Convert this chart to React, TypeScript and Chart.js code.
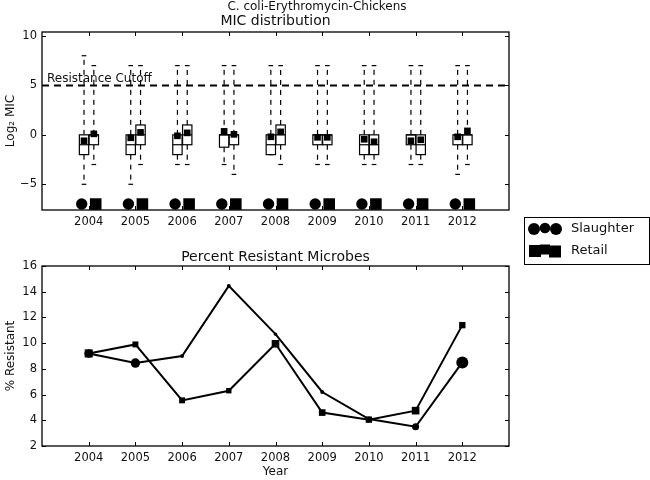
import { useEffect, useRef } from 'react';
import { Chart, registerables } from 'chart.js';
Chart.register(...registerables);

// ---------- data ----------
const years = [2004, 2005, 2006, 2007, 2008, 2009, 2010, 2011, 2012];

// MIC distribution (log2 MIC) - Slaughter
const slMin = [-5, -5, -3, -3, -2, -3, -3, -3, -4];
const slQ1 = [-2, -2, -2, -1.25, -2, -1, -2, -1, -1];
const slMed = [-1, -1, -1, 0, -1, 0, -1, 0, 0];
const slQ3 = [0, 0, 0, 0, 0, 0, 0, 0, 0];
const slMax = [8, 7, 7, 7, 7, 7, 7, 7, 7];
const slMean = [-0.6, -0.3, -0.1, 0.35, -0.2, -0.25, -0.45, -0.6, -0.2];

// MIC distribution (log2 MIC) - Retail
const rtMin = [-3, -3, -3, -4, -3, -3, -3, -3, -3];
const rtQ1 = [-1, -1, -1, -1, -1, -1, -2, -2, -1];
const rtMed = [0, 0, 0, 0, 0, 0, -1, -1, 0];
const rtQ3 = [0, 1, 1, 0, 1, 0, 0, 0, 0];
const rtMax = [7, 7, 7, 7, 7, 7, 7, 7, 7];
const rtMean = [0.1, 0.25, 0.2, 0.05, 0.3, -0.25, -0.7, -0.5, 0.4];

const cutoff = 5;
const micTicks = [-5, 0, 5, 10];

// Percent resistant
const slPct = [9.2, 8.45, 9.0, 14.45, 10.7, 6.2, 4.1, 3.5, 8.5];
const rtPct = [9.2, 9.9, 5.55, 6.3, 9.95, 4.6, 4.05, 4.75, 11.4];
const pctTicks = [2, 4, 6, 8, 10, 12, 14, 16];

// marker radii (style)
const slRadius = [4.3, 4.7, 2, 2, 1.7, 2, 2.5, 3.5, 6];
const rtRadius = [5.7, 4.2, 4.2, 3.8, 5.4, 4.7, 4.5, 5.4, 4.5];

// ---------- style ----------
const FONT = "'DejaVu Sans', 'Liberation Sans', sans-serif";
const TXT = '#111';
const SL_OFF = -0.1;
const RT_OFF = 0.11;
const BOX_HALF = 0.1;

const fmt = (v: number) => (v < 0 ? '\u2212' + Math.abs(v) : String(v));

function seg(ctx: CanvasRenderingContext2D, x1: number, y1: number, x2: number, y2: number) {
  ctx.beginPath();
  ctx.moveTo(x1, y1);
  ctx.lineTo(x2, y2);
  ctx.stroke();
}

const frameTicks = {
  id: 'frameTicks',
  afterDatasetsDraw(chart: any) {
    const { ctx, chartArea, scales } = chart;
    const { left, right, top, bottom } = chartArea;
    const x = scales.x, y = scales.y;
    ctx.save();
    ctx.strokeStyle = '#000';
    ctx.lineWidth = 1;
    x.ticks.forEach((t: any) => {
      const px = Math.round(x.getPixelForValue(t.value)) + 0.5;
      seg(ctx, px, bottom, px, bottom - 4);
      seg(ctx, px, top, px, top + 4);
    });
    y.ticks.forEach((t: any) => {
      const py = Math.round(y.getPixelForValue(t.value)) + 0.5;
      seg(ctx, left, py, left + 4, py);
      seg(ctx, right, py, right - 4, py);
    });
    ctx.lineWidth = 1.3;
    ctx.strokeRect(left, top, right - left, bottom - top);
    ctx.restore();
  },
};

const boxPlugin = {
  id: 'boxes',
  beforeDatasetsDraw(chart: any) {
    const { ctx, chartArea, scales } = chart;
    const x = scales.x, y = scales.y;
    ctx.save();
    ctx.beginPath();
    ctx.rect(chartArea.left, chartArea.top, chartArea.right - chartArea.left, chartArea.bottom - chartArea.top);
    ctx.clip();
    const groups = [
      { off: SL_OFF, min: slMin, q1: slQ1, med: slMed, q3: slQ3, max: slMax },
      { off: RT_OFF, min: rtMin, q1: rtQ1, med: rtMed, q3: rtQ3, max: rtMax },
    ];
    groups.forEach((g) => {
      years.forEach((yr, i) => {
        const cx = x.getPixelForValue(yr + g.off);
        const hw = x.getPixelForValue(yr + g.off + BOX_HALF) - cx;
        const cw = hw / 2;
        const py = (v: number) => y.getPixelForValue(v);
        ctx.strokeStyle = '#000';
        ctx.lineWidth = 1.2;
        ctx.setLineDash([5, 5]);
        seg(ctx, cx, py(g.q3[i]), cx, py(g.max[i]));
        seg(ctx, cx, py(g.q1[i]), cx, py(g.min[i]));
        ctx.setLineDash([]);
        seg(ctx, cx - cw, py(g.max[i]), cx + cw, py(g.max[i]));
        seg(ctx, cx - cw, py(g.min[i]), cx + cw, py(g.min[i]));
        const top = py(g.q3[i]);
        const bot = py(g.q1[i]);
        ctx.fillStyle = '#fff';
        ctx.fillRect(cx - hw, top, 2 * hw, bot - top);
        ctx.strokeRect(cx - hw, top, 2 * hw, bot - top);
        seg(ctx, cx - hw, py(g.med[i]), cx + hw, py(g.med[i]));
      });
    });
    ctx.restore();
  },
};

const topText = {
  id: 'topText',
  afterDraw(chart: any) {
    const { ctx, chartArea } = chart;
    const cx = (chartArea.left + chartArea.right) / 2;
    ctx.save();
    ctx.fillStyle = TXT;
    ctx.textAlign = 'center';
    ctx.textBaseline = 'middle';
    ctx.font = `12px ${FONT}`;
    ctx.fillText('C. coli-Erythromycin-Chickens', 317, 7);
    ctx.font = `14px ${FONT}`;
    ctx.fillText('MIC distribution', cx, 21);
    // cutoff label
    const yC = chart.scales.y.getPixelForValue(cutoff);
    ctx.font = `12px ${FONT}`;
    ctx.textAlign = 'left';
    ctx.textBaseline = 'alphabetic';
    ctx.fillText('Resistance Cutoff', chartArea.left + 5, yC - 3);

    // legend
    const lx = 524, ly = 217, lw = 125, lh = 47;
    ctx.fillStyle = '#fff';
    ctx.fillRect(lx, ly, lw, lh);
    ctx.strokeStyle = '#000';
    ctx.lineWidth = 1;
    ctx.strokeRect(lx + 0.5, ly + 0.5, lw, lh);
    ctx.fillStyle = '#000';
    const r1 = 229, r2 = 251;
    [[534, 0, 6], [545, -1, 5.3], [556, 0, 6]].forEach(([px, dy, r]) => {
      ctx.beginPath();
      ctx.arc(px, r1 + dy, r, 0, Math.PI * 2);
      ctx.fill();
    });
    [[535, 0, 12], [545, -1.5, 10], [555, 0.5, 12]].forEach(([px, dy, s]) => {
      ctx.fillRect(px - s / 2, r2 + dy - s / 2, s, s);
    });
    ctx.fillStyle = TXT;
    ctx.font = `13px ${FONT}`;
    ctx.textBaseline = 'middle';
    ctx.fillText('Slaughter', 571, r1);
    ctx.fillText('Retail', 571, r2);
    ctx.restore();
  },
};

const botText = {
  id: 'botText',
  afterDraw(chart: any) {
    const { ctx, chartArea } = chart;
    ctx.save();
    ctx.fillStyle = TXT;
    ctx.textAlign = 'center';
    ctx.textBaseline = 'middle';
    ctx.font = `14px ${FONT}`;
    ctx.fillText('Percent Resistant Microbes', (chartArea.left + chartArea.right) / 2, chartArea.top - 9);
    ctx.restore();
  },
};

const tickFont = { family: FONT, size: 11.5 };
const titleFont = { family: FONT, size: 12 };

function xScale(height: number) {
  return {
    type: 'linear',
    min: 2003,
    max: 2013,
    afterBuildTicks: (s: any) => {
      s.ticks = years.map((v) => ({ value: v }));
    },
    afterFit: (s: any) => {
      s.height = height;
    },
    grid: { display: false, drawTicks: false },
    border: { display: false },
    ticks: { padding: 5, font: tickFont, color: TXT, maxRotation: 0, autoSkip: false, callback: (v: any) => String(v) },
  };
}

function yScale(min: number, max: number, ticks: number[], title: string) {
  return {
    type: 'linear',
    min,
    max,
    afterBuildTicks: (s: any) => {
      s.ticks = ticks.map((v) => ({ value: v }));
    },
    afterFit: (s: any) => {
      s.width = 42;
    },
    grid: { display: false, drawTicks: false },
    border: { display: false },
    ticks: { padding: 5, font: tickFont, color: TXT, callback: (v: any) => fmt(v) },
    title: { display: true, text: title, font: titleFont, color: TXT, padding: { top: 4, bottom: 0 } },
  };
}

export default function App() {
  const topRef = useRef<HTMLCanvasElement>(null);
  const botRef = useRef<HTMLCanvasElement>(null);

  useEffect(() => {
    const top = new Chart(topRef.current as HTMLCanvasElement, {
      type: 'scatter',
      data: {
        datasets: [
          {
            data: [{ x: 2003, y: cutoff }, { x: 2013, y: cutoff }],
            showLine: true,
            borderColor: '#000',
            borderWidth: 2,
            borderDash: [7, 5],
            pointRadius: 0,
          },
          {
            data: years.map((yr, i) => ({ x: yr + SL_OFF, y: slMean[i] })),
            pointStyle: 'rect',
            pointRadius: 4.7,
            backgroundColor: '#000',
            borderColor: '#000',
            borderWidth: 0,
          },
          {
            data: years.map((yr, i) => ({ x: yr + RT_OFF, y: rtMean[i] })),
            pointStyle: 'rect',
            pointRadius: 4.7,
            backgroundColor: '#000',
            borderColor: '#000',
            borderWidth: 0,
          },
          {
            data: years.map((yr) => ({ x: yr - 0.15, y: -7 })),
            pointStyle: 'circle',
            pointRadius: 5.7,
            backgroundColor: '#000',
            borderColor: '#000',
            borderWidth: 0,
          },
          {
            data: years.map((yr) => ({ x: yr + 0.15, y: -7 })),
            pointStyle: 'rect',
            pointRadius: 8.2,
            backgroundColor: '#000',
            borderColor: '#000',
            borderWidth: 0,
          },
        ],
      },
      options: {
        animation: false,
        responsive: false,
        devicePixelRatio: 1,
        events: [],
        layout: { padding: { left: 0, top: 32, right: 141, bottom: 250 } },
        plugins: { legend: { display: false }, tooltip: { enabled: false }, title: { display: false } },
        scales: {
          x: xScale(20) as any,
          y: yScale(-7.6, 10.4, micTicks, 'Log\u2082 MIC') as any,
        },
      },
      plugins: [boxPlugin, frameTicks, topText],
    } as any);

    const bot = new Chart(botRef.current as HTMLCanvasElement, {
      type: 'scatter',
      data: {
        datasets: [
          {
            label: 'Slaughter',
            data: years.map((yr, i) => ({ x: yr, y: slPct[i] })),
            showLine: true,
            borderColor: '#000',
            borderWidth: 2,
            backgroundColor: '#000',
            pointStyle: 'circle',
            pointRadius: slRadius,
            pointBorderWidth: 0,
          },
          {
            label: 'Retail',
            data: years.map((yr, i) => ({ x: yr, y: rtPct[i] })),
            showLine: true,
            borderColor: '#000',
            borderWidth: 2,
            backgroundColor: '#000',
            pointStyle: 'rect',
            pointRadius: rtRadius,
            pointBorderWidth: 0,
          },
        ],
      },
      options: {
        animation: false,
        responsive: false,
        devicePixelRatio: 1,
        events: [],
        layout: { padding: { left: 0, top: 266, right: 141, bottom: 0 } },
        plugins: { legend: { display: false }, tooltip: { enabled: false }, title: { display: false } },
        scales: {
          x: {
            ...(xScale(34) as any),
            title: { display: true, text: 'Year', font: titleFont, color: TXT, padding: { top: 0, bottom: 1 } },
          },
          y: yScale(2, 16, pctTicks, '% Resistant') as any,
        },
      },
      plugins: [frameTicks, botText],
    } as any);

    return () => {
      top.destroy();
      bot.destroy();
    };
  }, []);

  return (
    <div style={{ position: 'absolute', left: 0, top: 0, width: 650, height: 480, background: '#fff' }}>
      <canvas ref={topRef} width={650} height={480} style={{ position: 'absolute', left: 0, top: 0, width: 650, height: 480 }} />
      <canvas ref={botRef} width={650} height={480} style={{ position: 'absolute', left: 0, top: 0, width: 650, height: 480 }} />
    </div>
  );
}
